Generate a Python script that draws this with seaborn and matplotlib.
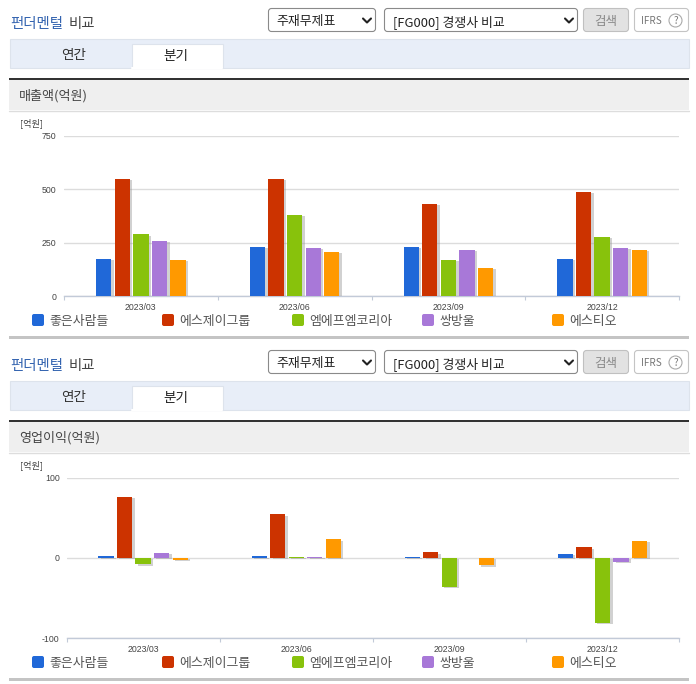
import matplotlib
matplotlib.use("Agg")
import matplotlib.pyplot as plt
import matplotlib.patheffects as pe
from matplotlib.patches import Rectangle, FancyBboxPatch, Circle
import pandas as pd
import seaborn as sns

# Values
quarters = ['2023/03', '2023/06', '2023/09', '2023/12']
companies = ['좋은사람들', '에스제이그룹', '엠에프엠코리아', '쌍방울', '에스티오']
colors = ['#2068d8', '#cc3300', '#88c20c', '#a878d8', '#ff9900']

sales = [
    [175, 231, 231, 175],
    [548, 548, 432, 486],
    [290, 379, 169, 278],
    [259, 227, 217, 227],
    [171, 208, 133, 217],
]
profit = [
    [2, 2, 1, 5],
    [76, 54, 7, 13],
    [-8, 1, -36, -81],
    [6, 1, 0, -5],
    [-2, 23, -9, 21],
]
sales_ticks = [0, 250, 500, 750]
profit_ticks = [-100, 0, 100]

W, H = 696, 684
sns.set_theme(style="white")
plt.rcParams['font.family'] = ['Noto Sans CJK KR', 'DejaVu Sans']
plt.rcParams['axes.unicode_minus'] = False

fig = plt.figure(figsize=(W / 100, H / 100), dpi=100)
bg = fig.add_axes([0, 0, 1, 1])
bg.set_xlim(0, W)
bg.set_ylim(H, 0)
bg.axis('off')


def box(x0, y0, x1, y1, face, edge='none', lw=0.8):
    bg.add_patch(Rectangle((x0, y0), x1 - x0, y1 - y0, facecolor=face, edgecolor=edge, linewidth=lw))


def rbox(x0, y0, x1, y1, face, edge='none', lw=0.8, r=3):
    bg.add_patch(FancyBboxPatch((x0 + r, y0 + r), x1 - x0 - 2 * r, y1 - y0 - 2 * r,
                                boxstyle=f"round,pad={r},rounding_size={r}",
                                facecolor=face, edgecolor=edge, linewidth=lw))


def label(x, y, s, size=9.3, color='#444444', ha='left', **kw):
    # the CJK font sits a little high when centred
    bg.text(x, y + 1.1, s, fontsize=size, color=color, ha=ha, va='center', **kw)


def chevron(x, y):
    bg.plot([x - 4, x, x + 4], [y - 2, y + 2, y - 2], color='#222222', lw=1.5)


def draw_frame(dy, heading):
    # header, selects, tabs
    label(10, 23 + dy, '펀더멘털', size=10.4, color='#3464b0', fontweight='medium')
    label(69, 23 + dy, '비교', size=10.4, color='#444444', fontweight='medium')
    rbox(268.5, 8.5 + dy, 375.5, 31.5 + dy, 'white', '#8a8a8a')
    label(276, 20.5 + dy, '주재무제표', color='#222222')
    chevron(367, 20.5 + dy)
    rbox(384.5, 8.5 + dy, 577.5, 31.5 + dy, 'white', '#8a8a8a')
    label(393, 20.5 + dy, '[FG000] 경쟁사 비교', color='#222222')
    chevron(569, 20.5 + dy)
    rbox(583.5, 8.5 + dy, 628.5, 31.5 + dy, '#e2e2e2', '#c0c0c0')
    label(606, 20 + dy, '검색', size=9, color='#888888', ha='center')
    rbox(634.5, 8.5 + dy, 688.5, 31.5 + dy, 'white', '#c4c4c4')
    label(641, 20 + dy, 'IFRS', size=7.2, color='#777777')
    bg.add_patch(Circle((675.5, 20.5 + dy), 6.5, facecolor='white', edgecolor='#aaaaaa', lw=0.8))
    label(675.5, 19.8 + dy, '?', size=7, color='#777777', ha='center')

    box(9.5, 38.5 + dy, 688.5, 67.5 + dy, '#e8eef8', '#dde3ec')
    box(131.5, 43.5 + dy, 222.5, 68 + dy, 'white', '#dde3ec')
    bg.plot([132, 222], [68 + dy, 68 + dy], color='white', lw=1.5)
    label(74, 54 + dy, '연간', size=9.8, color='#333333', ha='center')
    label(176, 54.5 + dy, '분기', size=9.8, color='#222222', ha='center')

    # section heading
    box(9, 80 + dy, 689, 110 + dy, '#efefef')
    box(9, 78 + dy, 689, 80 + dy, '#333333')
    bg.plot([9, 689], [110.5 + dy, 110.5 + dy], color='#dddddd', lw=1)
    label(19, 95 + dy, heading, size=9.4, color='#444444')
    label(20, 122 + dy, '[억원]', size=6.6, color='#444444')

    # legend row and closing rule
    for i, name in enumerate(companies):
        rbox(32 + 130 * i, 314 + dy, 44 + 130 * i, 326 + dy, colors[i], r=2)
        label(49 + 130 * i, 320 + dy, name, color='#555555')
    box(9, 336 + dy, 689, 338.5 + dy, '#c4c4c4')


def draw_chart(values, ticks, left, dy, label_pad):
    top, bottom, right = 135.5 + dy, 296.3 + dy, 679
    ax = fig.add_axes([left / W, 1 - bottom / H, (right - left) / W, (bottom - top) / H])
    ax.patch.set_alpha(0)

    frame = pd.DataFrame({
        'quarter': quarters * len(companies),
        'company': [c for c in companies for _ in quarters],
        'value': [v for row in values for v in row],
    })
    sns.barplot(data=frame, x='quarter', y='value', hue='company', hue_order=companies,
                palette=colors, width=0.605, gap=0.18, saturation=1, legend=False,
                linewidth=0, ax=ax, zorder=3)
    for bar in ax.patches:
        bar.set_path_effects([pe.SimplePatchShadow(offset=(1.8, -1), shadow_rgbFace='#999999', alpha=0.45),
                              pe.Normal()])

    ax.set_xlim(-0.5, 3.5)
    ax.set_ylim(ticks[0], ticks[-1])
    ax.set_yticks(ticks)
    ax.set_xlabel('')
    ax.set_ylabel('')
    ax.grid(axis='y', color='#dcdcdc', lw=1)
    ax.set_axisbelow(True)
    sns.despine(ax=ax, left=True, top=True, right=True)
    ax.spines['bottom'].set_color('#c2cad8')
    ax.spines['bottom'].set_linewidth(1)

    # ticks sit on group boundaries, labels in the middle of each group
    ax.set_xticks([-0.5, 0.5, 1.5, 2.5, 3.5], minor=True)
    ax.tick_params(axis='x', which='minor', length=3, width=0.8, color='#c2cad8', bottom=True)
    ax.tick_params(axis='x', which='major', length=0, pad=4.5, labelsize=6.3, labelcolor='#444444')
    ax.tick_params(axis='y', length=0, pad=label_pad, labelsize=6.3, labelcolor='#444444')
    for t in ax.get_xticklabels() + ax.get_yticklabels():
        t.set_fontfamily(['Liberation Sans', 'DejaVu Sans'])
    return ax


draw_frame(0, '매출액(억원)')
draw_chart(sales, sales_ticks, 64, 0, 5.5)
draw_frame(342, '영업이익(억원)')
draw_chart(profit, profit_ticks, 66.5, 342, 5)

plt.savefig("out.png", dpi=100)
plt.close()
